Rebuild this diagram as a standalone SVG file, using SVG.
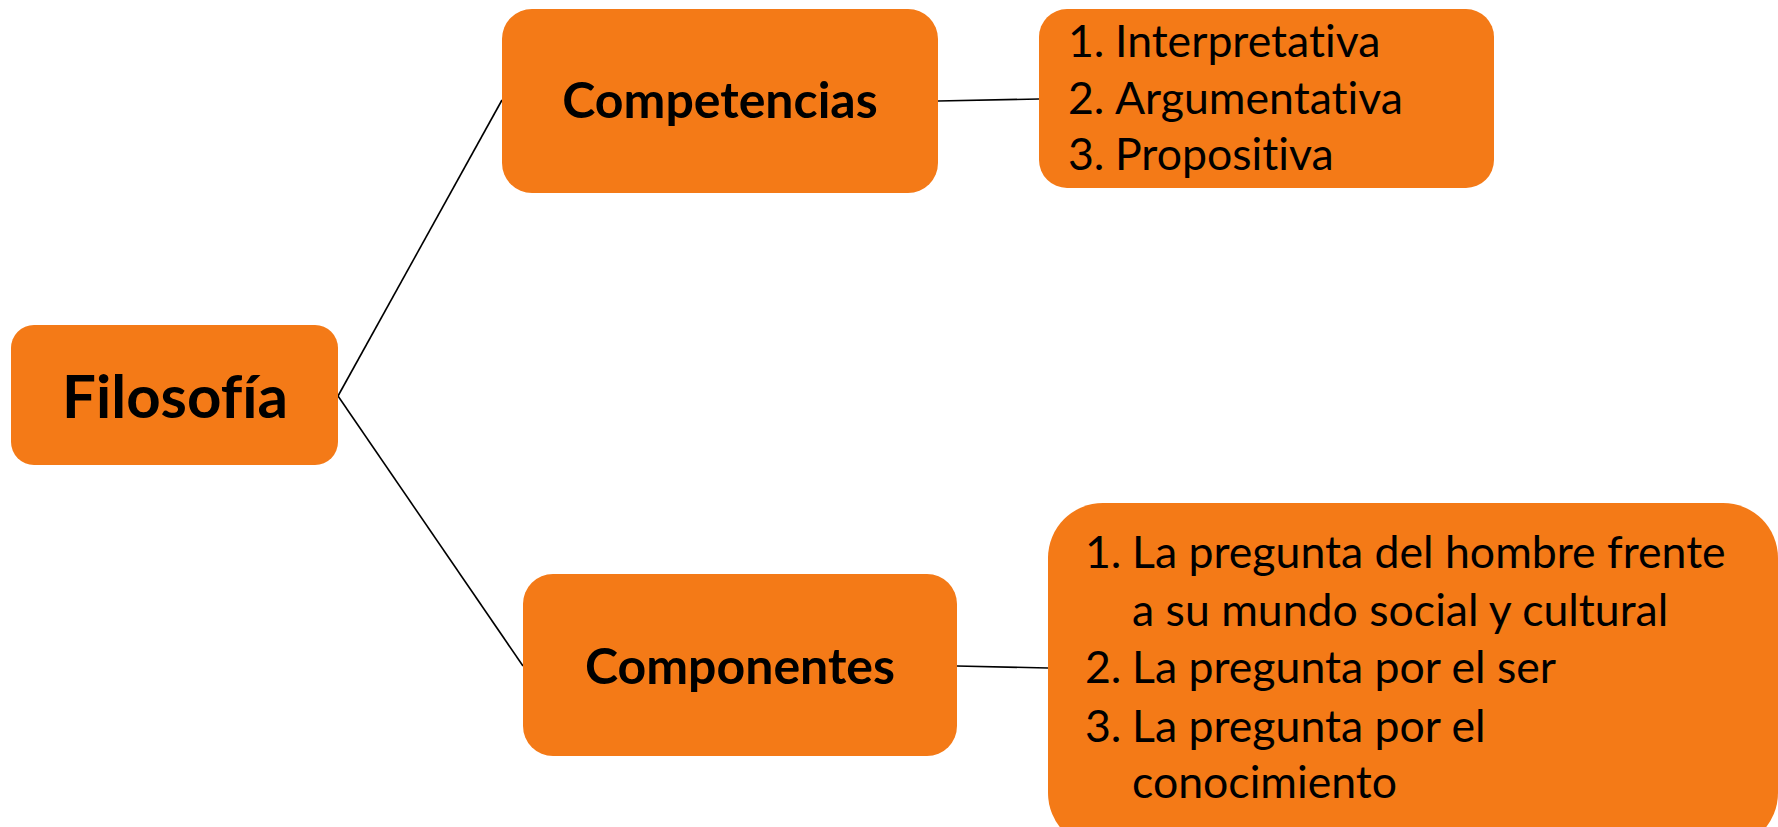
<svg xmlns="http://www.w3.org/2000/svg" width="1778" height="827" viewBox="0 0 1778 827">
<style>
.box{fill:#F47A17}
.title{font-family:Lato,"Open Sans","Liberation Sans",sans-serif;font-weight:bold;fill:#000;text-anchor:middle;font-variant-ligatures:none;font-feature-settings:"liga" 0}
.item{font-family:Lato,"Open Sans","Liberation Sans",sans-serif;font-size:44.6px;fill:#000;font-variant-ligatures:none;font-feature-settings:"liga" 0}
.conn{stroke:#000;stroke-width:1.6;fill:none}
</style>
<rect width="1778" height="827" fill="#fff"/>
<g id="connectors">
<line class="conn" x1="338" y1="396" x2="502" y2="100"/>
<line class="conn" x1="338" y1="396" x2="523" y2="666"/>
<line class="conn" x1="938" y1="101" x2="1039" y2="99"/>
<line class="conn" x1="957" y1="666" x2="1048" y2="668"/>
</g>
<g id="filosofia">
<rect class="box" x="11" y="325" width="327" height="140" rx="23"/>
<text class="title" x="175" y="418" font-size="60">Filosofía</text>
</g>
<g id="competencias">
<rect class="box" x="502" y="9" width="436" height="184" rx="30"/>
<text class="title" x="720" y="118" font-size="50">Competencias</text>
</g>
<g id="componentes">
<rect class="box" x="523" y="574" width="434" height="182" rx="30"/>
<text class="title" x="740" y="684" font-size="50">Componentes</text>
</g>
<g id="lista-competencias">
<rect class="box" x="1039" y="9" width="455" height="179" rx="28"/>
<text class="item" x="1068" y="57">1.</text><text class="item" x="1115" y="57">Interpretativa</text>
<text class="item" x="1068" y="113.5">2.</text><text class="item" x="1115" y="113.5">Argumentativa</text>
<text class="item" x="1068" y="170">3.</text><text class="item" x="1115" y="170">Propositiva</text>
</g>
<g id="lista-componentes">
<rect class="box" x="1048" y="503" width="730" height="345" rx="55"/>
<text class="item" x="1085" y="568">1.</text><text class="item" x="1132" y="568">La pregunta del hombre frente</text>
<text class="item" x="1132" y="626">a su mundo social y cultural</text>
<text class="item" x="1085" y="683">2.</text><text class="item" x="1132" y="683">La pregunta por el ser</text>
<text class="item" x="1085" y="742">3.</text><text class="item" x="1132" y="742">La pregunta por el</text>
<text class="item" x="1132" y="798">conocimiento</text>
</g>
</svg>
